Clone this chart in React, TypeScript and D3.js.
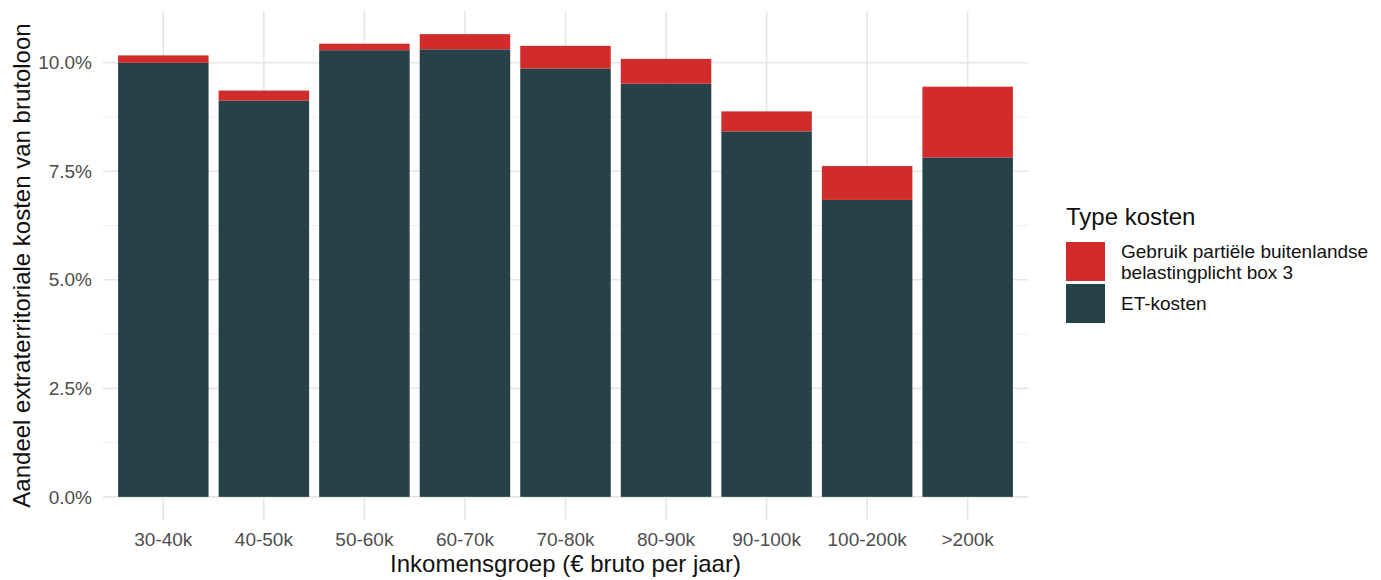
import { useEffect, useRef } from "react";
import * as d3 from "d3";

const groups = ["30-40k", "40-50k", "50-60k", "60-70k", "70-80k", "80-90k", "90-100k", "100-200k", ">200k"];
const etKosten = [10.0, 9.13, 10.29, 10.31, 9.87, 9.52, 8.42, 6.84, 7.82];
const box3Kosten = [0.17, 0.23, 0.15, 0.35, 0.52, 0.57, 0.46, 0.78, 1.63];
const yTicks = [0, 2.5, 5, 7.5, 10];
const yMinor = [1.25, 3.75, 6.25, 8.75];
const legendLabels = [["Gebruik partiële buitenlandse", "belastingplicht box 3"], ["ET-kosten"]];

const RED = "#d12b2b";
const DARK = "#264248";

export default function App() {
  const ref = useRef<SVGSVGElement | null>(null);

  useEffect(() => {
    const svg = d3.select(ref.current);
    svg.selectAll("*").remove();

    const left = 103, right = 1028, top = 11, bottom = 520;
    const font = "'Liberation Sans', Arial, sans-serif";

    const totals = etKosten.map((v, i) => v + box3Kosten[i]);
    const maxV = d3.max(totals) as number;
    const y = d3.scaleLinear()
      .domain([-maxV * 0.05, maxV * 1.05])
      .range([bottom, top]);

    // ggplot style discrete axis: 0.6 expansion on each side
    const n = groups.length;
    const step = (right - left) / (n - 1 + 1.2);
    const x = d3.scaleBand().domain(groups)
      .range([left + 0.6 * step - step / 2, right - 0.6 * step + step / 2])
      .paddingInner(0.1).paddingOuter(0.05);
    const cx = (g: string) => (x(g) as number) + x.bandwidth() / 2;

    const g = svg.append("g");

    // minor gridlines
    g.selectAll(".minor").data(yMinor).enter().append("line")
      .attr("x1", left).attr("x2", right)
      .attr("y1", d => y(d)).attr("y2", d => y(d))
      .attr("stroke", "#efefef").attr("stroke-width", 1);

    // major gridlines
    g.selectAll(".major").data(yTicks).enter().append("line")
      .attr("x1", left).attr("x2", right)
      .attr("y1", d => y(d)).attr("y2", d => y(d))
      .attr("stroke", "#e6e6e6").attr("stroke-width", 1.6);

    g.selectAll(".vgrid").data(groups).enter().append("line")
      .attr("x1", d => cx(d)).attr("x2", d => cx(d))
      .attr("y1", top).attr("y2", bottom)
      .attr("stroke", "#e6e6e6").attr("stroke-width", 1.6);

    // bars: ET-kosten on the bottom, box 3 stacked on top
    g.selectAll(".et").data(groups).enter().append("rect")
      .attr("x", d => x(d) as number)
      .attr("width", x.bandwidth())
      .attr("y", (d, i) => y(etKosten[i]))
      .attr("height", (d, i) => y(0) - y(etKosten[i]))
      .attr("fill", DARK);

    g.selectAll(".box3").data(groups).enter().append("rect")
      .attr("x", d => x(d) as number)
      .attr("width", x.bandwidth())
      .attr("y", (d, i) => y(totals[i]))
      .attr("height", (d, i) => y(etKosten[i]) - y(totals[i]))
      .attr("fill", RED);

    // y tick labels
    g.selectAll(".ylab").data(yTicks).enter().append("text")
      .attr("x", left - 11).attr("y", d => y(d))
      .attr("dy", "0.35em").attr("text-anchor", "end")
      .attr("font-family", font).attr("font-size", 19).attr("fill", "#4d4d4d")
      .text(d => d3.format(".1f")(d) + "%");

    // x tick labels
    g.selectAll(".xlab").data(groups).enter().append("text")
      .attr("x", d => cx(d)).attr("y", bottom + 26)
      .attr("text-anchor", "middle")
      .attr("font-family", font).attr("font-size", 19).attr("fill", "#4d4d4d")
      .text(d => d);

    // axis titles
    g.append("text")
      .attr("x", (left + right) / 2).attr("y", 572)
      .attr("text-anchor", "middle")
      .attr("font-family", font).attr("font-size", 24).attr("fill", "#111")
      .text("Inkomensgroep (€ bruto per jaar)");

    g.append("text")
      .attr("transform", `translate(30,${(top + bottom) / 2}) rotate(-90)`)
      .attr("text-anchor", "middle")
      .attr("font-family", font).attr("font-size", 24).attr("fill", "#111")
      .text("Aandeel extraterritoriale kosten van brutoloon");

    // legend
    const lg = svg.append("g").attr("transform", "translate(1066,0)");
    lg.append("text")
      .attr("x", 0).attr("y", 225)
      .attr("font-family", font).attr("font-size", 24).attr("fill", "#111")
      .text("Type kosten");

    const keyColors = [RED, DARK];
    const keyY = [242, 284];
    keyColors.forEach((c, i) => {
      lg.append("rect")
        .attr("x", 0).attr("y", keyY[i])
        .attr("width", 39).attr("height", 39)
        .attr("fill", c);
      const lines = legendLabels[i];
      const t = lg.append("text")
        .attr("font-family", font).attr("font-size", 19).attr("fill", "#111");
      const mid = keyY[i] + 19.5;
      const lh = 21;
      lines.forEach((line, j) => {
        t.append("tspan")
          .attr("x", 55)
          .attr("y", mid + (j - (lines.length - 1) / 2) * lh)
          .attr("dy", "0.35em")
          .text(line);
      });
    });
  }, []);

  return (
    <svg ref={ref} width={1381} height={580}
      style={{ position: "absolute", left: 0, top: 0, background: "#fff" }} />
  );
}
